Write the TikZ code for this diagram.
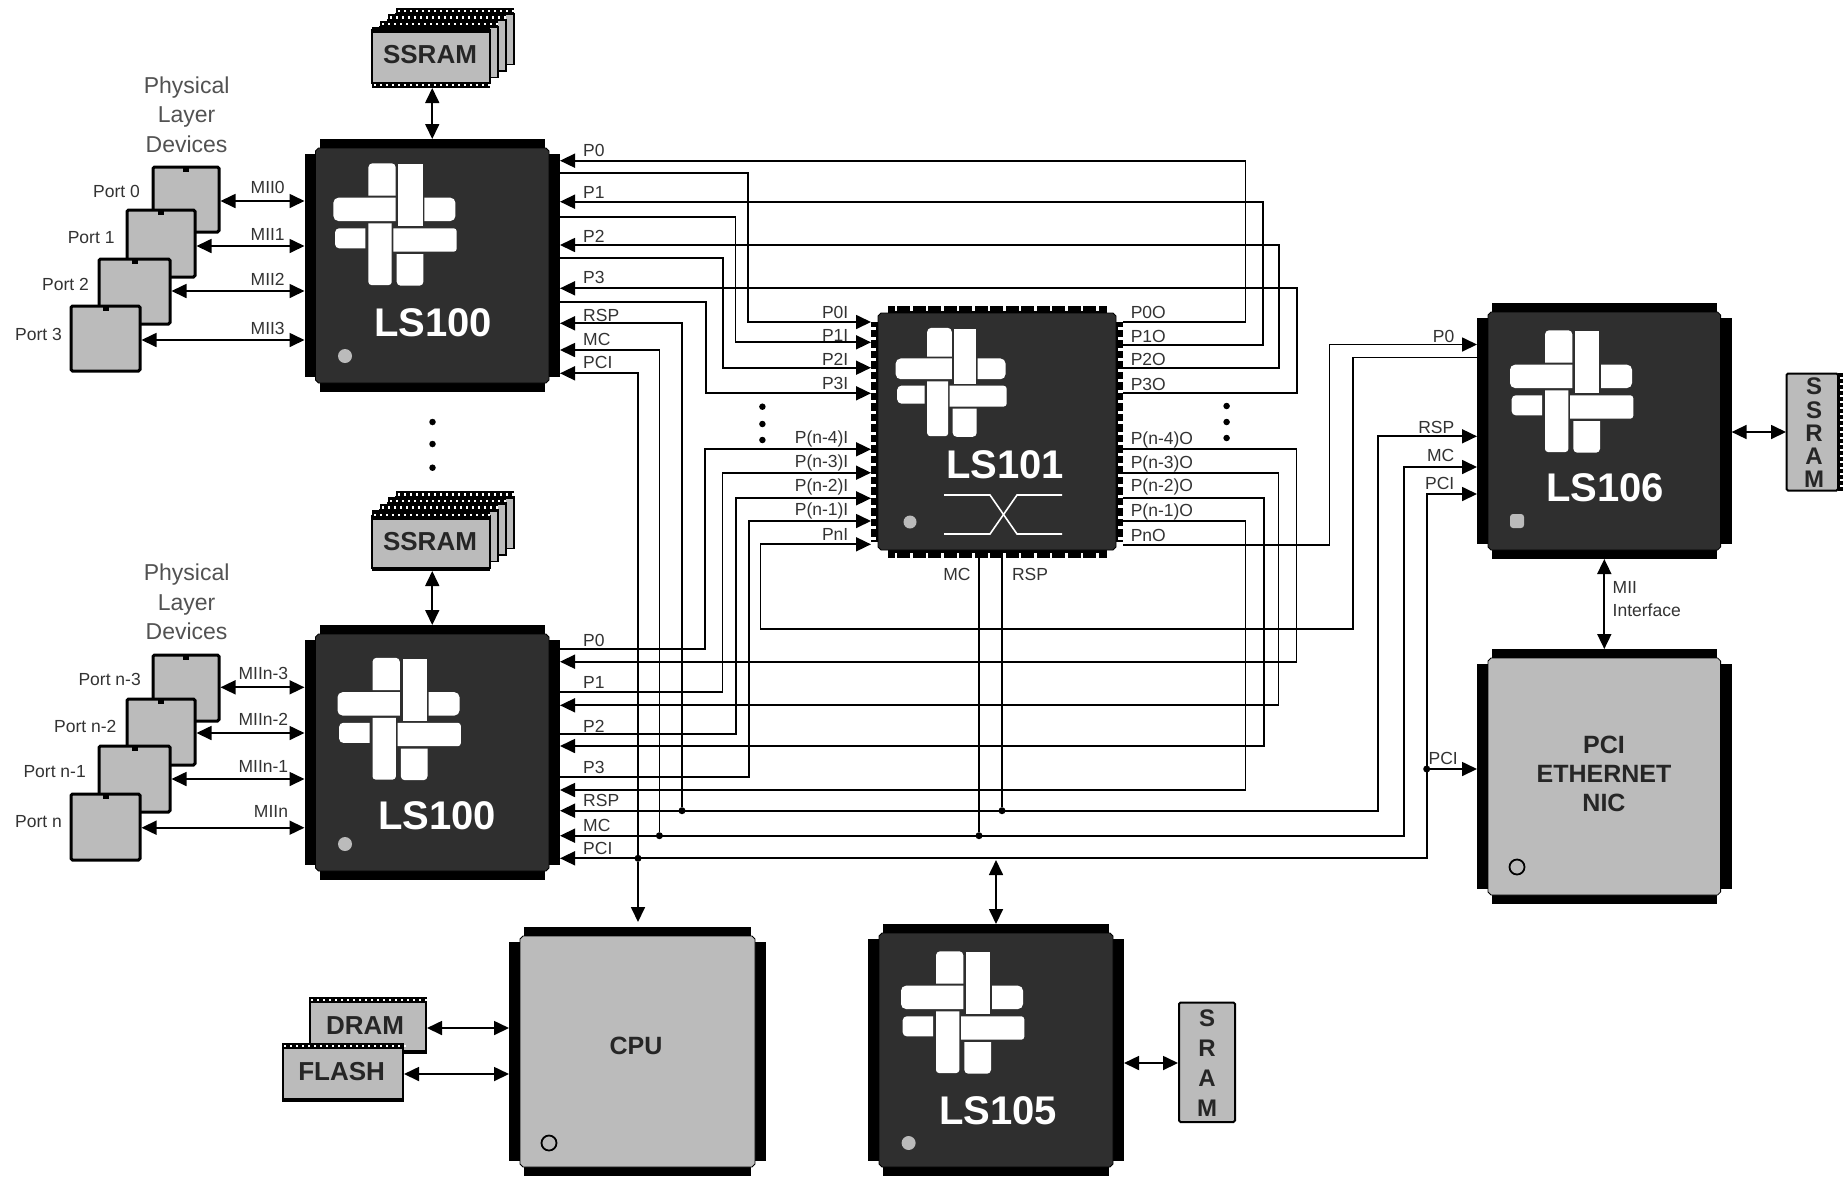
\documentclass[tikz,border=0pt]{standalone}
\usepackage{fontspec}
\setmainfont{Liberation Sans}
\usetikzlibrary{arrows.meta}
\definecolor{dk}{HTML}{2F2F2F}
\definecolor{gy}{HTML}{BBBBBB}
\definecolor{labc}{HTML}{333333}
\tikzset{
  >={Triangle[length=15pt,width=14pt]},
  wire/.style={line width=1.7pt,black},
  lab/.style={font=\fontsize{17.5}{17.5}\selectfont,text=labc,inner sep=0pt},
  biglab/.style={font=\fontsize{40}{40}\selectfont\bfseries,text=white,inner sep=0pt},
  chiplab/.style={font=\fontsize{25}{29}\selectfont\bfseries,text=black!85,inner sep=0pt,align=center},
  memlab/.style={font=\fontsize{26}{26}\selectfont\bfseries,text=black!85,inner sep=0pt,align=center},
  phys/.style={font=\fontsize{23}{29.5}\selectfont,text=labc!85,inner sep=0pt,align=center},
  portbox/.style={draw=black,line width=3pt,fill=gy,rounded corners=1.5pt,inner sep=0pt},
  anchorbox/.style={inner sep=0pt,outer sep=0pt},
  jdot/.style={circle,fill=black,inner sep=0pt,minimum size=7pt},
  dotmark/.style={circle,fill=black,inner sep=0pt,minimum size=6.5pt},
  pindot/.style={circle,fill=gy,inner sep=0pt,minimum size=14pt},
  ringdot/.style={circle,draw=black,line width=1.8pt,fill=gy,inner sep=0pt,minimum size=15pt},
}
% QFP chip: name, xl, yt, xr, yb, body colour
\newcommand{\qfp}[6]{%
  \fill[black] ({#2+15},#3) rectangle ({#4-15},#5);
  \fill[black] (#2,{#3+15}) rectangle (#4,{#5-15});
  \filldraw[fill=#6,draw=black,line width=.8pt]
    ({#2+14},{#3+9}) -- ({#4-14},{#3+9}) -- ({#4-11},{#3+12}) -- ({#4-11},{#5-12})
    -- ({#4-14},{#5-9}) -- ({#2+14},{#5-9}) -- ({#2+11},{#5-12}) -- ({#2+11},{#3+12}) -- cycle;
  \pgfmathsetmacro{\qw}{#4-#2}\pgfmathsetmacro{\qh}{#5-#3}
  \node[anchorbox,minimum width=\qw pt,minimum height=\qh pt] (#1) at ({(#2+#4)/2},{(#3+#5)/2}) {};
}
% woven logo: centre x,y, x scale, y scale
\newcommand{\logomark}[4]{%
  \begin{scope}[shift={(#1,#2)},xscale=#3,yscale=#4,fill=white]
    \fill (0.3,-27.3) [rounded corners=4pt] -- (0.3,-59.7) -- (-27,-59.7) [sharp corners] -- (-27,-27.3) -- cycle;
    \fill (3,3) -- (3,-58.7) -- (27.3,-58.7) -- (27.3,3) -- cycle;
    \fill (0.3,-25.3) [rounded corners=5pt] -- (-62,-25.3) -- (-62,-2) [sharp corners] -- (0.3,-2) -- cycle;
    \fill (29,-25.3) [rounded corners=5pt] -- (60,-25.3) -- (60,-2) [sharp corners] -- (29,-2) -- cycle;
    \fill (-30,5.3) [rounded corners=4pt] -- (-60.3,5.3) -- (-60.3,25.3) [sharp corners] -- (-30,25.3) -- cycle;
    \fill (-27,0.3) -- (-3.7,0.3) [rounded corners=3pt] -- (-3.7,62) -- (-27,62) [sharp corners] -- cycle;
    \fill (-2,5.3) [rounded corners=3pt] -- (61.3,5.3) -- (61.3,28.7) [sharp corners] -- (-2,28.7) -- cycle;
    \fill (1.3,31) -- (28,31) [rounded corners=4pt] -- (28,62.7) -- (1.3,62.7) [sharp corners] -- cycle;
  \end{scope}%
}
% horizontal pin strip: x0, x1, y0, y1
\newcommand{\memrow}[4]{%
  \fill[black] (#1,#3) rectangle (#2,#4);
  \pgfmathsetmacro{\mrx}{#1+6}
  \foreach \q in {#1,\mrx,...,#2}{\fill[white] ({\q+2},{(#3+#4)/2-1.2}) rectangle ({\q+4},{(#3+#4)/2+1.2});}%
}
\newcommand{\portdev}[5]{%
  \pgfmathsetmacro{\pw}{#4-#2}\pgfmathsetmacro{\ph}{#5-#3}
  \node[portbox,minimum width=\pw pt,minimum height=\ph pt] (#1) at ({(#2+#4)/2},{(#3+#5)/2}) {};
  \fill[black] ({(#2+#4)/2-3},#3) rectangle ({(#2+#4)/2+3},{#3+5});
}
\begin{document}
\begin{tikzpicture}[x=1pt,y=-1pt]
\useasboundingbox (0,0) rectangle (1843,1176);
\fill[white] (0,0) rectangle (1843,1176);

%% ---- memory stacks ----
\foreach \i in {3,2,1}{
  \begin{scope}[shift={({8*\i},{-6.5*\i})}]
    \filldraw[fill=gy,draw=black,line width=1.6pt] (372,33) rectangle (490,84);
    \memrow{372}{490}{27}{34}
  \end{scope}
}
\filldraw[fill=gy,draw=black,line width=1.8pt] (372,30) rectangle (490,83);
\fill[black] (372,27) rectangle (490,33);
\memrow{372}{490}{82}{88}
\node[anchorbox,minimum width=118pt,minimum height=61pt] (ssramA) at (431,57.5) {};
\node[memlab] (ssramAlab) at (430,55) {SSRAM};

\foreach \i in {3,2,1}{
  \begin{scope}[shift={({8*\i},{-6.5*\i})}]
    \filldraw[fill=gy,draw=black,line width=1.6pt] (372,516) rectangle (490,568);
    \memrow{372}{490}{510}{518}
  \end{scope}
}
\filldraw[fill=gy,draw=black,line width=1.8pt] (372,516) rectangle (490,568);
\fill[black] (372,567) rectangle (490,571);
\memrow{372}{490}{510}{520}
\node[anchorbox,minimum width=118pt,minimum height=61pt] (ssramB) at (431,540.5) {};
\node[memlab] (ssramBlab) at (430,541.7) {SSRAM};

% right SSRAM
\filldraw[fill=gy,draw=black,line width=2pt,rounded corners=1.5pt] (1786.5,373.5) rectangle (1838,490.5);
\fill[black] (1838,373) rectangle (1843,491);
\foreach \q in {377,383,...,488}{\fill[white] (1840,\q) rectangle (1843,{\q+2.4});}
\node[anchorbox,minimum width=57pt,minimum height=118pt] (ssramR) at (1814.5,432) {};
\node[memlab,font=\fontsize{24}{23.2}\selectfont\bfseries] (ssramRlab) at (1814,433) {S\\S\\R\\A\\M};

% SRAM by LS105
\filldraw[fill=gy,draw=black,line width=2pt,rounded corners=1.5pt] (1179,1002.5) rectangle (1235,1122);
\node[anchorbox,minimum width=58pt,minimum height=121pt] (sram) at (1207,1062) {};
\node[memlab,font=\fontsize{24}{30.2}\selectfont\bfseries] (sramlab) at (1207,1063) {S\\R\\A\\M};

% DRAM / FLASH
\filldraw[fill=gy,draw=black,line width=1.8pt] (310,1000) rectangle (426,1051);
\fill[black] (309,1050) rectangle (427,1054);
\memrow{309}{427}{996.5}{1003}
\node[anchorbox,minimum width=118pt,minimum height=57pt] (dram) at (368,1025) {};
\node[memlab] (dramlab) at (365,1026) {DRAM};
\filldraw[fill=gy,draw=black,line width=1.8pt] (283,1046) rectangle (403,1099);
\fill[black] (282,1098) rectangle (404,1102);
\memrow{282}{404}{1042.5}{1049}
\node[anchorbox,minimum width=122pt,minimum height=59pt] (flash) at (343,1072) {};
\node[memlab] (flashlab) at (341.6,1071.7) {FLASH};

%% ---- port devices ----
\portdev{pa0}{153}{167}{219}{232}
\portdev{pa1}{127}{210}{195}{277}
\portdev{pa2}{99}{259}{170}{324}
\portdev{pa3}{71}{306}{140}{371}
\portdev{pb0}{153}{655}{219}{721}
\portdev{pb1}{127}{699}{195}{765}
\portdev{pb2}{99}{746}{170}{812}
\portdev{pb3}{71}{794}{140}{860}

%% ---- chips ----
\qfp{lsA}{304.5}{139}{560}{392}{dk}
\logomark{395.4}{223}{1}{1}
\node[pindot] (dotA) at (345,356) {};
\node[biglab] (lsAlab) at (433,323) {LS100};

\qfp{lsB}{304.5}{625}{560}{880}{dk}
\logomark{399.5}{717.5}{1}{1}
\node[pindot] (dotB) at (345,844) {};
\node[biglab] (lsBlab) at (437,816) {LS100};

\qfp{lsS}{1477}{303}{1731.6}{559}{dk}
\logomark{1572}{390}{1}{1}
\node[rectangle,rounded corners=3pt,fill=gy,inner sep=0pt,minimum size=14pt] (dotS) at (1517,521) {};
\node[biglab] (lsSlab) at (1605,488) {LS106};

\qfp{nic}{1477}{649}{1731.6}{904}{gy}
\node[ringdot] (dotN) at (1517,867) {};
\node[chiplab] (niclab) at (1604,774) {PCI\\ETHERNET\\NIC};

\qfp{lsF}{868}{924}{1124}{1176}{dk}
\logomark{963}{1011}{1}{1}
\node[pindot] (dotF) at (908.6,1143) {};
\node[biglab] (lsFlab) at (998,1111) {LS105};

\qfp{cpu}{509}{927}{766}{1176}{gy}
\node[ringdot] (dotC) at (549,1143) {};
\node[chiplab] (cpulab) at (636,1046) {CPU};

% LS101
\fill[black] (888,306) rectangle (1107,558);
\fill[black] (871,322) rectangle (1123,542);
\foreach \q in {896,911.5,...,1105}{
  \fill[white] ({\q-1.2},306) rectangle ({\q+1.2},311);
  \fill[white] ({\q-1.2},553) rectangle ({\q+1.2},558);
}
\foreach \q in {328,338.5,...,540}{
  \fill[white] (871,{\q-1.5}) rectangle (876,{\q+1.5});
  \fill[white] (1118,{\q-1.5}) rectangle (1123,{\q+1.5});
}
\filldraw[fill=dk,draw=black,line width=.8pt]
  (881,313) -- (1113,313) -- (1116,316) -- (1116,547) -- (1113,550) -- (881,550) -- (878,547) -- (878,316) -- cycle;
\node[anchorbox,minimum width=252pt,minimum height=252pt] (lsH) at (997,432) {};
\logomark{951.5}{381}{0.9}{0.89}
\node[circle,fill=gy,inner sep=0pt,minimum size=13pt] (dotH) at (910,522) {};
\node[biglab] (lsHlab) at (1005,465) {LS101};
\draw[white,line width=1.6pt] (944,495) -- (990,495) -- (1017,534) -- (1062,534);
\draw[white,line width=1.6pt] (944,534) -- (990,534) -- (1017,495) -- (1062,495);

%% ---- wires, top LS100 <-> LS101 ----
\draw[wire,->] (lsH.east |- 0,322) -- (1245.5,322) -- (1245.5,160.7) -- (lsA.east |- 0,160.7);
\draw[wire,->] (lsA.east |- 0,173.3) -- (748,173.3) -- (748,322) -- (lsH.west |- 0,322);
\draw[wire,->] (lsH.east |- 0,345) -- (1263,345) -- (1263,201.7) -- (lsA.east |- 0,201.7);
\draw[wire,->] (lsA.east |- 0,217.3) -- (735.5,217.3) -- (735.5,342.3) -- (lsH.west |- 0,342.3);
\draw[wire,->] (lsH.east |- 0,367.7) -- (1279,367.7) -- (1279,245) -- (lsA.east |- 0,245);
\draw[wire,->] (lsA.east |- 0,257.7) -- (723,257.7) -- (723,367.7) -- (lsH.west |- 0,367.7);
\draw[wire,->] (lsH.east |- 0,393.3) -- (1297,393.3) -- (1297,288.3) -- (lsA.east |- 0,288.3);
\draw[wire,->] (lsA.east |- 0,301.7) -- (705.7,301.7) -- (705.7,393.3) -- (lsH.west |- 0,393.3);

%% ---- wires, bottom LS100 <-> LS101 ----
\draw[wire,->] (lsH.east |- 0,449.3) -- (1296.5,449.3) -- (1296.5,661.7) -- (lsB.east |- 0,661.7);
\draw[wire,->] (lsB.east |- 0,649.3) -- (705.3,649.3) -- (705.3,449.3) -- (lsH.west |- 0,449.3);
\draw[wire,->] (lsH.east |- 0,472.7) -- (1278.5,472.7) -- (1278.5,705.3) -- (lsB.east |- 0,705.3);
\draw[wire,->] (lsB.east |- 0,692.3) -- (722.5,692.3) -- (722.5,472.7) -- (lsH.west |- 0,472.7);
\draw[wire,->] (lsH.east |- 0,498.3) -- (1263.8,498.3) -- (1263.8,746) -- (lsB.east |- 0,746);
\draw[wire,->] (lsB.east |- 0,734) -- (736,734) -- (736,498.3) -- (lsH.west |- 0,498.3);
\draw[wire,->] (lsH.east |- 0,521) -- (1245.5,521) -- (1245.5,790) -- (lsB.east |- 0,790);
\draw[wire,->] (lsB.east |- 0,777.3) -- (748.8,777.3) -- (748.8,521) -- (lsH.west |- 0,521);

%% ---- Pn <-> LS106 ----
\draw[wire,->] (lsH.east |- 0,544.7) -- (1329.5,544.7) -- (1329.5,344.5) -- (lsS.west |- 0,344.5);
\draw[wire,->] (lsS.west |- 0,357.5) -- (1353,357.5) -- (1353,629) -- (760.4,629) -- (760.4,544.3) -- (lsH.west |- 0,544.3);

%% ---- buses ----
\node[jdot] (jrspA) at (682,810.7) {};
\node[jdot] (jmcA) at (659.4,835.7) {};
\node[jdot] (jpciC) at (638,858.3) {};
\node[jdot] (jmcH) at (979,835.7) {};
\node[jdot] (jrspH) at (1002,810.7) {};
\node[jdot] (jpciN) at (1426.7,769) {};

\draw[wire,->] (jrspA) -- (682,323.3) -- (lsA.east |- 0,323.3);
\draw[wire,->] (jmcA) -- (659.4,350) -- (lsA.east |- 0,350);
\draw[wire,->] (jpciC) -- (638,373.3) -- (lsA.east |- 0,373.3);
\draw[wire,<->] (lsB.east |- jrspA) -- (1378,810.7) -- (1378,436.3) -- (lsS.west |- 0,436.3);
\draw[wire,<->] (lsB.east |- jmcA) -- (1404,835.7) -- (1404,467) -- (lsS.west |- 0,467);
\draw[wire,<->] (lsB.east |- jpciC) -- (1426.7,858.3) -- (1426.7,494) -- (lsS.west |- 0,494);
\draw[wire,->] (jpciN) -- (nic.west |- jpciN);
\draw[wire] (jmcH) -- (jmcH |- lsH.south);
\draw[wire] (jrspH) -- (jrspH |- lsH.south);
\draw[wire,->,shorten >=5pt] (jpciC) -- (cpu.north -| jpciC);
\coordinate (bus105) at (996,860);
\draw[wire,<->] (bus105) -- (bus105 |- lsF.north);

%% ---- other links ----
\foreach \dev/\y in {pa0/201,pa1/246,pa2/291,pa3/340}{
  \draw[wire,<->] (\dev.east |- 0,\y) -- (lsA.west |- 0,\y);
}
\foreach \dev/\y in {pb0/687.3,pb1/733,pb2/779,pb3/827.7}{
  \draw[wire,<->] (\dev.east |- 0,\y) -- (lsB.west |- 0,\y);
}
\draw[wire,<->] (lsA.north |- ssramA.south) -- (lsA.north);
\draw[wire,<->] (lsB.north |- ssramB.south) -- (lsB.north);
\draw[wire,<->] (lsS.east |- ssramR) -- (ssramR.west);
\draw[wire,<->] (lsF.east |- 0,1063) -- (sram.west |- 0,1063);
\draw[wire,<->] (dram.east |- 0,1028) -- (cpu.west |- 0,1028);
\draw[wire,<->] (flash.east |- 0,1074) -- (cpu.west |- 0,1074);
\draw[wire,<->] (lsS.south) -- (nic.north);

%% ---- ellipsis dots ----
\foreach \n/\x/\y in {a/432.5/422,b/432.5/444,c/432.5/467.7,d/762.4/406.7,e/762.4/424,f/762.4/440,g/1226.6/406,h/1226.6/422,i/1226.6/438}{
  \node[dotmark] (ell\n) at (\x,\y) {};
}

%% ---- labels ----
\node[phys] (physA) at (186.6,114.5) {Physical\\Layer\\Devices};
\node[phys] (physB) at (186.6,602) {Physical\\Layer\\Devices};

\foreach \n/\t/\y in {0/MII0/187.7,1/MII1/234,2/MII2/279,3/MII3/328}{
  \node[lab] (mii\n) at (267.7,\y) {\t};
}
\node[lab] (miib0) at (263.4,673) {MIIn-3};
\node[lab] (miib1) at (263.4,719) {MIIn-2};
\node[lab] (miib2) at (263.4,766) {MIIn-1};
\node[lab] (miib3) at (271,811.7) {MIIn};

\foreach \n/\t/\x/\y in {a0/Port 0/140/191.7,a1/Port 1/114.7/238,a2/Port 2/89/284,a3/Port 3/62/334,
  b0/Port n-3/141/679,b1/Port n-2/116.6/726,b2/Port n-1/86/771.7,b3/Port n/62/821.7}{
  \node[lab,anchor=east] (port\n) at (\x,\y) {\t};
}
\foreach \n/\t/\y in {p0/P0/150.7,p1/P1/192.7,p2/P2/236,p3/P3/277.7,r/RSP/315,m/MC/339,c/PCI/362.7}{
  \node[lab,anchor=west] (la\n) at (583,\y) {\t};
}
\foreach \n/\t/\y in {p0/P0/640.7,p1/P1/682.7,p2/P2/726,p3/P3/767.7,r/RSP/800.7,m/MC/825,c/PCI/848}{
  \node[lab,anchor=west] (lb\n) at (583,\y) {\t};
}
\foreach \n/\t/\y in {0/P0I/312,1/P1I/335.7,2/P2I/359,3/P3I/383,4/P(n-4)I/439.3,5/P(n-3)I/463,6/P(n-2)I/487,7/P(n-1)I/511,8/PnI/534}{
  \node[lab,anchor=east] (hi\n) at (848.5,\y) {\t};
}
\foreach \n/\t/\y in {0/P0O/312,1/P1O/336,2/P2O/359.3,3/P3O/384,4/P(n-4)O/440,5/P(n-3)O/464,6/P(n-2)O/487,7/P(n-1)O/511.7,8/PnO/535}{
  \node[lab,anchor=west] (ho\n) at (1130.6,\y) {\t};
}
\node[lab] (hmc) at (957,574) {MC};
\node[lab] (hrsp) at (1030,574) {RSP};
\foreach \n/\t/\y in {p/P0/336,r/RSP/427,m/MC/455.5,c/PCI/483}{
  \node[lab,anchor=east] (ls\n) at (1454.5,\y) {\t};
}
\node[lab,anchor=east] (npci) at (1458,758) {PCI};
\node[lab,anchor=west,align=left,font=\fontsize{17.5}{23.6}\selectfont] (miiif) at (1612.5,599) {MII\\Interface};
\end{tikzpicture}
\end{document}
